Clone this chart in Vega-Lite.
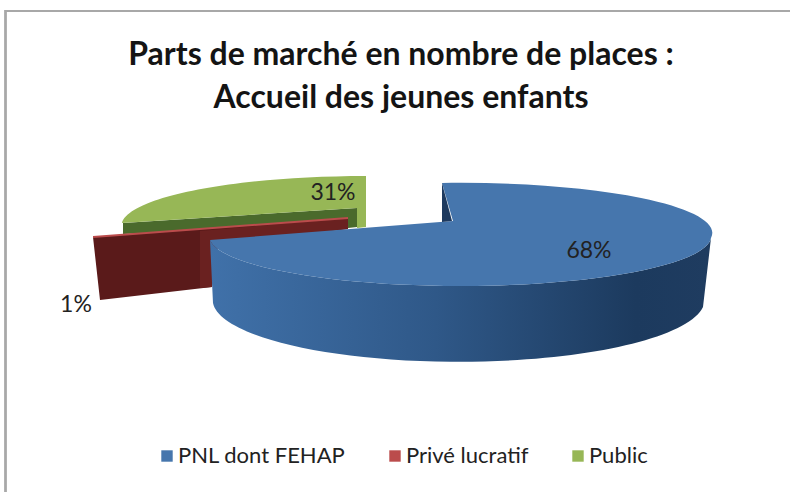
{"$schema":"https://vega.github.io/schema/vega-lite/v6.json","width":790,"height":492,"padding":0,"autosize":{"type":"none"},"background":"#ffffff","view":{"stroke":null},"title":{"text":["Parts de marché en nombre de places :","Accueil des jeunes enfants"],"anchor":"middle","dx":6,"offset":-115,"font":"Lato","fontSize":32,"fontWeight":700,"lineHeight":43,"color":"#141414"},"data":{"values":[{"segment":"PNL dont FEHAP","share":0.68},{"segment":"Privé lucratif","share":0.01},{"segment":"Public","share":0.31}]},"encoding":{"x":{"field":"share","type":"quantitative","axis":null,"scale":{"domain":[0.01,0.31,0.68],"range":[76,333,589],"nice":false,"zero":false}},"y":{"field":"share","type":"quantitative","axis":null,"scale":{"domain":[0.01,0.31,0.68],"range":[305,193,251],"nice":false,"zero":false}}},"layer":[{"mark":{"type":"rule","stroke":"#a8a8a8","strokeWidth":2},"encoding":{"x":{"value":5.5},"y":{"value":10},"y2":{"value":492}}},{"mark":{"type":"rule","stroke":"#a8a8a8","strokeWidth":2},"encoding":{"x":{"value":5},"x2":{"value":790},"y":{"value":11}}},{"transform":[{"filter":"datum.segment==='Public'"}],"mark":{"type":"point","filled":true,"size":4,"opacity":1,"strokeWidth":0,"fill":"#4a6a2c","shape":"M24,15L-210,30L-210,41L15,32L15,35L24,34Z"}},{"transform":[{"filter":"datum.segment==='Privé lucratif'"}],"mark":{"type":"point","filled":true,"size":4,"opacity":1,"strokeWidth":0,"fill":"#5a1a1a","shape":"M17,-68L272,-87L272,-76L142,-60L136,-18L24,-5Z"}},{"transform":[{"filter":"datum.segment==='Privé lucratif'"}],"mark":{"type":"point","filled":true,"size":4,"opacity":1,"strokeWidth":0,"fill":"#6a2120","shape":"M124,-74L272,-87L272,-76L142,-60L136,-18L124,-17Z"}},{"transform":[{"filter":"datum.segment==='PNL dont FEHAP'"}],"mark":{"type":"point","filled":true,"size":4,"opacity":1,"strokeWidth":0,"fill":{"gradient":"linear","x1":0,"y1":0,"x2":1,"y2":0,"stops":[{"offset":0,"color":"#4071a9"},{"offset":0.45,"color":"#2f5888"},{"offset":0.85,"color":"#1c3a5e"},{"offset":1,"color":"#1f3c60"}]},"shape":"M122,-13A251,50 0 0 1 -379,-11L-376,52A246,62 0 0 0 114,56Z"}},{"transform":[{"filter":"datum.segment==='PNL dont FEHAP'"}],"mark":{"type":"point","filled":true,"size":4,"opacity":1,"strokeWidth":0,"shape":"M-136,-30L-147,-68A251,50 0 0 1 122,-13A251,50 0 0 1 -379,-11Z"},"encoding":{"color":{"field":"segment","type":"nominal","title":null,"scale":{"domain":["PNL dont FEHAP","Privé lucratif","Public"],"range":["#4676ad","#bb4c4c","#97b756"]},"legend":{"orient":"none","legendX":156,"legendY":445,"direction":"horizontal","symbolType":"square","symbolSize":130,"symbolStrokeWidth":0,"symbolOpacity":1,"labelFont":"Lato","labelFontSize":22,"labelColor":"#222222","columnPadding":38,"labelOffset":0,"labelLimit":260}}}},{"transform":[{"filter":"datum.segment==='Privé lucratif'"}],"mark":{"type":"point","filled":true,"size":4,"opacity":1,"strokeWidth":0,"shape":"M17,-69L272,-88L272,-86L17,-67Z"},"encoding":{"color":{"field":"segment","type":"nominal"}}},{"transform":[{"filter":"datum.segment==='Public'"}],"mark":{"type":"point","filled":true,"size":4,"opacity":1,"strokeWidth":0,"shape":"M33,-17L33,34L24,35L24,15L-211,30A245,50 0 0 1 33,-17Z"},"encoding":{"color":{"field":"segment","type":"nominal"}}},{"transform":[{"filter":"datum.segment==='PNL dont FEHAP'"}],"mark":{"type":"point","filled":true,"size":4,"opacity":1,"strokeWidth":0,"fill":"#1e3a5f","shape":"M-147,-68L-137,-30L-147,-29Z"}},{"mark":{"type":"text","font":"Lato","fontSize":23,"color":"#222222","align":"center","baseline":"middle"},"encoding":{"text":{"field":"share","type":"quantitative","format":".0%"}}}]}
